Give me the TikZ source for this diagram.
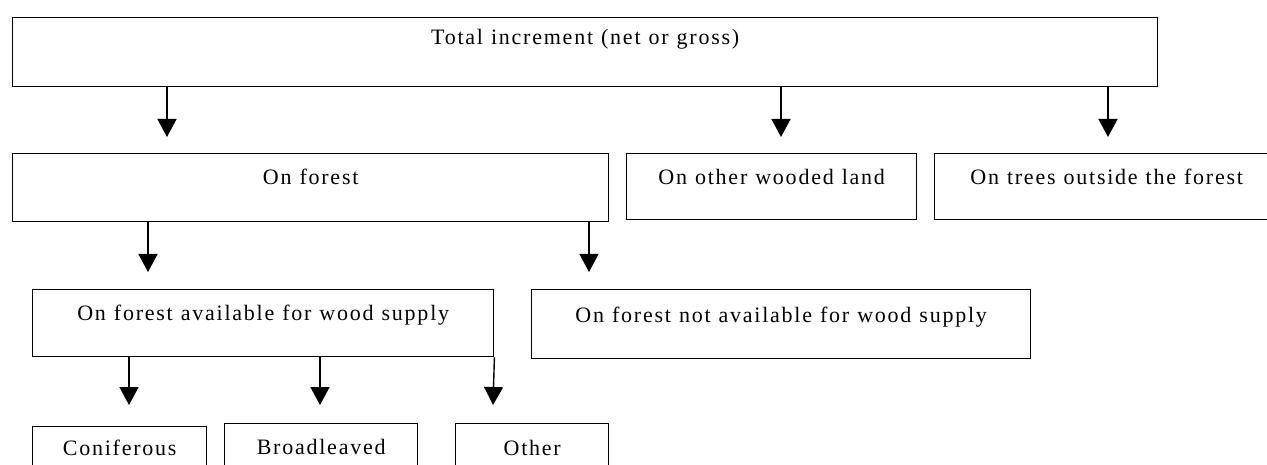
\documentclass[tikz,border=0pt]{standalone}
\usepackage{fontspec}
\setmainfont{Liberation Serif}[LetterSpace=8]
\usetikzlibrary{arrows.meta}
\tikzset{
  box/.style={draw, line width=1.4pt, inner sep=0pt, align=flush center, anchor=north west,
    font=\fontsize{22}{26}\selectfont,
    execute at begin node={\spaceskip=8pt plus 1pt minus 1pt\relax}},
  dims/.style n args={3}{text width=#1, text height=#2, text depth=#3},
  arr/.style={line width=1.4pt, -{Triangle[length=18pt,width=19pt]}}
}
\begin{document}
\begin{tikzpicture}[x=1pt,y=-1pt]
\useasboundingbox[fill=white] (0,0) rectangle (1267,465);
\clip (0,0) rectangle (1267,465);
% nodes
\node[box, dims={1145pt}{27pt}{42pt}] (total) at (12,17) {Total increment (net or gross)};
\node[box, dims={596pt}{31pt}{37pt}] (forest) at (12,153) {On forest};
\node[box, dims={290pt}{31pt}{35pt}] (owl) at (626,153) {On other wooded land};
\node[box, dims={344pt}{31pt}{35pt}] (tof) at (934,153) {On trees outside the forest};
\node[box, dims={461pt}{31pt}{36pt}] (avail) at (32,289) {On forest available for wood supply};
\node[box, dims={499pt}{33pt}{36pt}] (notavail) at (531,289) {On forest not available for wood supply};
\node[box, dims={174pt}{29pt}{40pt}] (conif) at (32,426) {Coniferous};
\node[box, dims={193pt}{31pt}{40pt}] (broad) at (224,423) {Broadleaved};
\node[box, dims={153pt}{32pt}{40pt}] (other) at (455,423) {Other};
% arrow tips
\coordinate (t1) at (167,137);
\coordinate (t2) at (781,137);
\coordinate (t3) at (1108,137);
\coordinate (t4) at (148,272);
\coordinate (t5) at (589,272);
\coordinate (t6) at (129,405);
\coordinate (t7) at (320,405);
\coordinate (t8) at (493,405);
% connectors
\draw[arr] (total.south -| t1) -- (t1);
\draw[arr] (total.south -| t2) -- (t2);
\draw[arr] (total.south -| t3) -- (t3);
\draw[arr] (forest.south -| t4) -- (t4);
\draw[arr] (forest.south -| t5) -- (t5);
\draw[arr] (avail.south -| t6) -- (t6);
\draw[arr] (avail.south -| t7) -- (t7);
\draw[arr] (avail.south east) -- (t8);
\end{tikzpicture}
\end{document}
